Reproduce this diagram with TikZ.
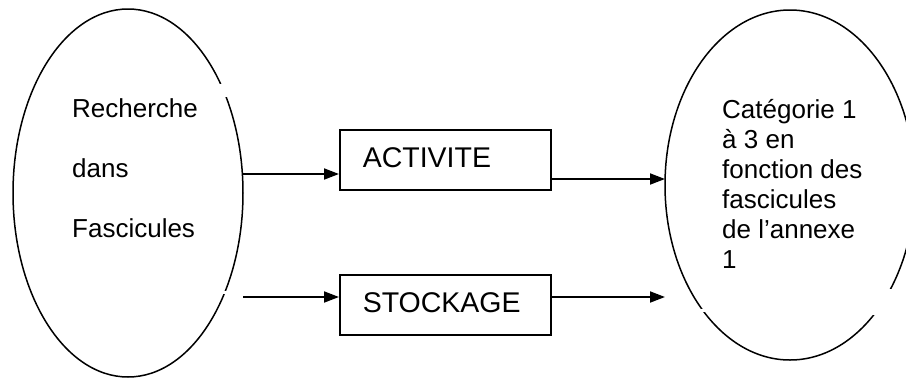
\documentclass[tikz,border=0pt]{standalone}
\usepackage{fontspec}
\setmainfont{Liberation Sans}
\usetikzlibrary{arrows.meta,shapes.geometric}

\begin{document}
\begin{tikzpicture}[x=1pt,y=-1pt,>={Triangle[length=15pt,width=11pt]},
    blob/.style={draw,ellipse,line width=1.5pt,inner sep=0pt},
    stagebox/.style={draw,line width=1.6pt,anchor=north west,minimum height=60pt,
        text width=165pt,align=left,inner xsep=23pt,inner ysep=0pt,
        text height=20pt,text depth=4pt,font=\fontsize{28.5}{30}\selectfont},
    flow/.style={->,line width=1.8pt},
    gap/.style={fill=white}]
    \useasboundingbox (0,0) rectangle (906,378);

    % Ellipses
    \node[blob,minimum width=230pt,minimum height=368pt] (recherche) at (128,193) {};
    \node[blob,minimum width=250pt,minimum height=350pt] (categorie) at (790,185) {};

    % breaks in the outlines
    \fill[gap] (212,84) rectangle (236,97);
    \fill[gap] (212,290.5) rectangle (236,293.5);
    \fill[gap] (866,289) rectangle (906,315);
    \fill[gap] (694,308.5) rectangle (714,311.5);

    % Texts in the ellipses
    \foreach \txt [count=\i] in {Recherche,dans,Fascicules}
        \node[anchor=base west,inner sep=0pt,font=\fontsize{26}{30}\selectfont]
            (left\i) at (72,57+60*\i) {\txt};
    \foreach \txt [count=\i] in {Catégorie 1,à 3 en,fonction des,fascicules,de l’annexe,1}
        \node[anchor=base west,inner sep=0pt,font=\fontsize{26}{30}\selectfont]
            (right\i) at (722,88+30*\i) {\txt};

    % Boxes
    \node[stagebox] (activite) at (339,129) {ACTIVITE};
    \node[stagebox] (stockage) at (339,274) {STOCKAGE};

    % Arrows
    \coordinate (inA) at (243,174);
    \coordinate (outA) at (665,179);
    \coordinate (inS) at (243,297);
    \coordinate (outS) at (665,297);
    \draw[flow] (inA) -- (activite.west |- inA);
    \draw[flow] (activite.east |- outA) -- (outA);
    \draw[flow] (inS) -- (stockage.west |- inS);
    \draw[flow] (stockage.east |- outS) -- (outS);
\end{tikzpicture}
\end{document}
